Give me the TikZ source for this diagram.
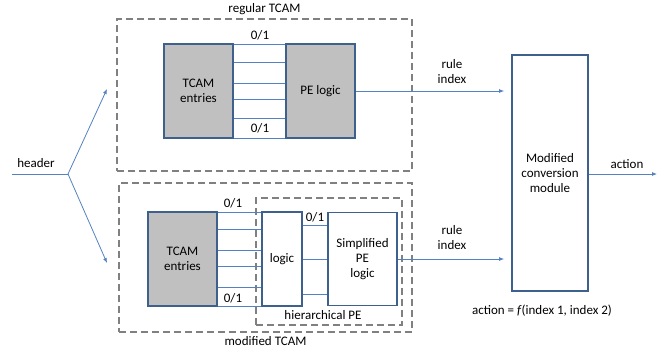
\documentclass[tikz,border=0pt]{standalone}
\usepackage{fontspec}
\setmainfont{Carlito}
\usetikzlibrary{arrows.meta, positioning}

\definecolor{boxblue}{RGB}{62,96,140}
\definecolor{wireblue}{RGB}{84,130,192}
\definecolor{tcamgray}{RGB}{192,192,192}
\definecolor{dashgray}{RGB}{128,128,128}

\begin{document}
\begin{tikzpicture}[
  x=1bp, y=-1bp,
  font=\fontsize{13bp}{15bp}\selectfont,
  block/.style = {draw=boxblue, line width=1.8bp, minimum width=69bp, minimum height=94bp, align=center, inner sep=2bp},
  graybox/.style = {block, fill=tcamgray},
  frame/.style = {draw=dashgray, line width=1.8bp, dash pattern=on 7bp off 4bp},
  wire/.style = {draw=wireblue, line width=0.8bp},
  arrow/.style = {wire, -{Latex[length=5bp,width=4bp]}},
  lbl/.style = {inner sep=1bp}
]
  \useasboundingbox (0,0) rectangle (667,353);

  % dashed frames
  \node[frame, minimum width=295bp, minimum height=152bp] (regular) at (264.5,95) {};
  \node[frame, minimum width=293bp, minimum height=149bp] (modified) at (265.5,257.5) {};
  \node[frame, minimum width=146bp, minimum height=127bp] (hier) at (329,261.5) {};
  \node[lbl, above=2bp of regular] {regular TCAM};
  \node[lbl, below=2bp of modified] {modified TCAM};
  \node[lbl] at (323,315) {hierarchical PE};

  % regular TCAM
  \foreach \y in {44,62,83,99,118,138}
    \draw[wire] (233,\y) -- (286,\y);
  \node[graybox] (tcamA) at (198.5,91) {TCAM\\entries};
  \node[graybox] (peA) at (320.5,91) {PE logic};
  \node[lbl] at (260,35) {0/1};
  \node[lbl] at (260,128) {0/1};

  % modified TCAM
  \foreach \y in {212,229,250,266,287,306}
    \draw[wire] (217,\y) -- (262,\y);
  \foreach \y in {225,259,294}
    \draw[wire] (302,\y) -- (328,\y);
  \node[graybox] (tcamB) at (182.5,259) {TCAM\\entries};
  \node[block, fill=white, minimum width=40bp] (logicB) at (282,259) {logic};
  \node[block, fill=white, minimum height=93bp] (simple) at (362.5,259) {Simplified\\PE\\logic};
  \node[lbl] at (233,203) {0/1};
  \node[lbl] at (233,298) {0/1};
  \node[lbl] at (315,217) {0/1};

  % conversion module
  \node[block, minimum width=76bp, minimum height=236bp] (conv) at (550,173) {Modified\\conversion\\module};
  \draw[arrow, shorten >=7bp] (peA.east) -- (conv.west |- peA.east);
  \draw[arrow, shorten >=7bp] (simple.east) -- (conv.west |- simple.east);
  \node[lbl, align=center] at (452,72) {rule\\index};
  \node[lbl, align=center] at (452,238) {rule\\index};

  \coordinate (out) at (657,174);
  \draw[arrow] (conv.east |- out) -- (out);
  \node[lbl] at (627,164) {action};
  \node[lbl] at (542,311) {action = \textit{f}(index 1, index 2)};

  % header fork
  \coordinate (hin) at (12,174);
  \coordinate (fork) at (68,174);
  \coordinate (toA) at (107,89);
  \coordinate (toB) at (107,263);
  \draw[wire] (hin) -- (fork);
  \draw[arrow] (fork) -- (toA);
  \draw[arrow] (fork) -- (toB);
  \node[lbl] at (36,163) {header};

\end{tikzpicture}
\end{document}
